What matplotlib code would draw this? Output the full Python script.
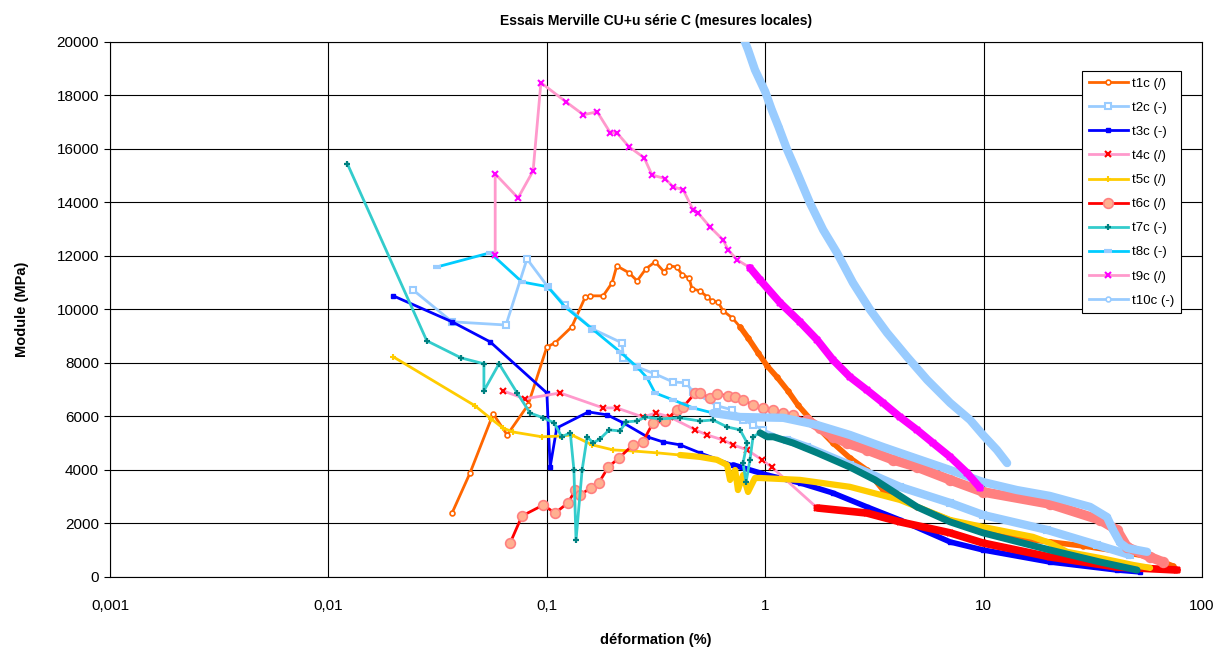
import matplotlib
matplotlib.use('Agg')
import matplotlib.pyplot as plt

plt.rcParams['font.family'] = ['Liberation Sans', 'DejaVu Sans']

# deformation (%) / module (MPa)
T1C_X = [0.0368, 0.0445, 0.0568, 0.0658, 0.0820, 0.100, 0.109, 0.130, 0.150, 0.158,
         0.181, 0.199, 0.209, 0.238, 0.259, 0.284, 0.313, 0.344, 0.363, 0.394,
         0.416, 0.448, 0.462, 0.502, 0.542, 0.570, 0.608, 0.641, 0.705, 0.767,
         0.834, 0.927, 1.02, 1.13, 1.27, 1.41, 1.73, 2.04, 2.44, 2.92,
         3.46, 4.95, 7.02, 9.93, 14.2, 20.1, 28.5, 40.8, 57.8, 73.6]
T1C_Y = [2390, 3890, 6100, 5310, 6430, 8600, 8750, 9350, 10470, 10510,
         10510, 11000, 11630, 11370, 11070, 11520, 11780, 11410, 11630, 11590,
         11300, 11180, 10770, 10700, 10470, 10320, 10280, 9950, 9690, 9350,
         8940, 8380, 7890, 7480, 6960, 6430, 5610, 5010, 4450, 4000,
         3250, 2620, 2130, 1680, 1460, 1310, 1160, 970, 750, 410]

T2C_X = [0.0244, 0.0368, 0.0650, 0.0811, 0.101, 0.121, 0.161, 0.221, 0.224, 0.259,
         0.313, 0.378, 0.434, 0.467, 0.601, 0.705, 0.791, 0.879, 0.977, 1.26,
         1.55, 2.44, 4.14, 7.02, 9.93, 19.5, 33.0, 46.8]
T2C_Y = [10730, 9540, 9420, 11890, 10850, 10170, 9280, 8750, 8190, 7850,
         7590, 7290, 7260, 6920, 6400, 6250, 5870, 5690, 5500, 5120,
         4860, 4190, 3370, 2770, 2320, 1760, 1200, 820]

T3C_X = [0.0198, 0.0368, 0.0550, 0.100, 0.1035, 0.111, 0.155, 0.189, 0.224, 0.288,
         0.340, 0.407, 0.502, 0.713, 1.02, 1.44, 2.04, 2.92, 4.14, 7.02,
         9.93, 20.1, 40.8, 52.0]
T3C_Y = [10510, 9540, 8790, 6880, 4110, 5570, 6170, 6060, 5760, 5240,
         5050, 4940, 4640, 4190, 3810, 3520, 3140, 2620, 2130, 1310,
         1010, 560, 260, 190]

T4C_X = [0.0629, 0.0794, 0.115, 0.181, 0.209, 0.275, 0.316, 0.366, 0.478, 0.542,
         0.641, 0.713, 0.826, 0.966, 1.07, 1.73, 2.92, 4.14, 7.02, 9.93,
         20.1, 40.8, 76.9]
T4C_Y = [6960, 6660, 6880, 6320, 6320, 5980, 6130, 5980, 5500, 5310,
         5120, 4940, 4750, 4380, 4110, 2580, 2390, 2060, 1650, 1270,
         750, 370, 260]

T5C_X = [0.0198, 0.0469, 0.0556, 0.0629, 0.0700, 0.0951, 0.115, 0.130, 0.161, 0.201,
         0.248, 0.320, 0.407, 0.502, 0.601, 0.668, 0.690, 0.728, 0.750, 0.791,
         0.834, 0.897, 0.946, 1.44, 2.44, 4.14, 7.02, 9.93, 16.8, 20.1,
         24.1, 34.1, 48.3, 57.8]
T5C_Y = [8230, 6400, 5910, 5570, 5420, 5240, 5270, 5310, 4940, 4750,
         4710, 4640, 4560, 4490, 4380, 4190, 3630, 4000, 3250, 3810,
         3180, 3700, 3700, 3630, 3370, 2880, 2130, 1870, 1500, 1270,
         940, 710, 450, 340]

T6C_X = [0.0679, 0.0769, 0.0962, 0.109, 0.125, 0.135, 0.142, 0.159, 0.173, 0.191,
         0.214, 0.248, 0.275, 0.306, 0.348, 0.394, 0.421, 0.478, 0.502, 0.558,
         0.601, 0.676, 0.728, 0.791, 0.879, 0.977, 1.09, 1.21, 1.34, 1.55,
         1.78, 2.04, 2.37, 2.92, 3.85, 4.95, 7.02, 9.93, 20.1, 34.1,
         40.8, 45.4, 57.8, 66.2]
T6C_Y = [1270, 2280, 2690, 2390, 2770, 3250, 3070, 3330, 3520, 4110,
         4450, 4940, 5050, 5760, 5830, 6250, 6360, 6880, 6880, 6700,
         6840, 6770, 6730, 6620, 6430, 6320, 6250, 6130, 6060, 5870,
         5570, 5240, 5010, 4750, 4380, 4110, 3630, 3180, 2730, 2130,
         1760, 1120, 750, 560]

T7C_X = [0.0122, 0.0282, 0.0405, 0.0515, 0.0515, 0.0604, 0.0731, 0.0838, 0.0962, 0.108,
         0.117, 0.128, 0.133, 0.136, 0.145, 0.153, 0.163, 0.175, 0.193, 0.216,
         0.231, 0.259, 0.282, 0.330, 0.407, 0.502, 0.577, 0.668, 0.767, 0.826,
         0.791, 0.817, 0.851, 0.879, 0.946, 1.02, 1.09, 1.34, 1.73, 2.44,
         3.18, 4.95, 7.02, 9.93, 20.1, 34.1, 50.4]
T7C_Y = [15450, 8830, 8190, 7970, 6960, 7970, 6880, 6130, 5950, 5760,
         5240, 5390, 4000, 1380, 4000, 5240, 5010, 5160, 5500, 5460,
         5800, 5830, 5980, 5910, 5950, 5830, 5870, 5610, 5500, 5010,
         4260, 3550, 4380, 5240, 5390, 5240, 5240, 5010, 4640, 4110,
         3630, 2620, 2060, 1650, 1010, 560, 260]

T8C_X = [0.0314, 0.0550, 0.0769, 0.101, 0.121, 0.161, 0.216, 0.259, 0.288, 0.313,
         0.378, 0.467, 0.577, 0.767, 1.21, 1.73, 2.44, 3.46, 4.14, 7.02,
         9.93, 14.2, 20.1, 30.7, 36.7, 39.1, 42.2, 45.4, 56.0]
T8C_Y = [11590, 12120, 11030, 10850, 10100, 9280, 8420, 7850, 7440, 6880,
         6620, 6320, 6130, 5980, 5950, 5680, 5310, 4860, 4640, 4000,
         3550, 3250, 3030, 2620, 2240, 1760, 1270, 1080, 940]

T9C_X = [0.0580, 0.0580, 0.0738, 0.0865, 0.0939, 0.122, 0.147, 0.170, 0.195, 0.209,
         0.238, 0.279, 0.303, 0.348, 0.378, 0.421, 0.467, 0.492, 0.558, 0.641,
         0.676, 0.743, 0.851, 0.946, 1.17, 1.44, 1.73, 2.04, 2.44, 2.92,
         3.46, 4.14, 4.95, 5.86, 7.02, 8.40, 9.63]
T9C_Y = [12040, 15070, 14170, 15180, 18480, 17770, 17280, 17390, 16610, 16610,
         16080, 15670, 15030, 14890, 14590, 14470, 13730, 13610, 13090, 12600,
         12230, 11860, 11560, 11110, 10250, 9540, 8860, 8120, 7480, 6990,
         6510, 5980, 5500, 5010, 4490, 3890, 3330]

T10C_X = [0.774, 0.834, 0.897, 1.00, 1.07, 1.15, 1.26, 1.40, 1.60, 1.84,
          2.13, 2.52, 3.02, 3.61, 4.46, 5.51, 7.02, 8.67, 9.93, 11.5, 12.8]
T10C_Y = [20380, 19710, 18960, 18140, 17470, 16830, 15970, 15110, 13990, 12980,
          12120, 11000, 9990, 9130, 8230, 7370, 6510, 5870, 5310, 4750, 4260]

LABELS = ['t1c (/)', 't2c (-)', 't3c (-)', 't4c (/)', 't5c (/)',
          't6c (/)', 't7c (-)', 't8c (-)', 't9c (/)', 't10c (-)']
DATA_X = [T1C_X, T2C_X, T3C_X, T4C_X, T5C_X, T6C_X, T7C_X, T8C_X, T9C_X, T10C_X]
DATA_Y = [T1C_Y, T2C_Y, T3C_Y, T4C_Y, T5C_Y, T6C_Y, T7C_Y, T8C_Y, T9C_Y, T10C_Y]

X_TICKS = [0.001, 0.01, 0.1, 1, 10, 100]
X_TICK_LABELS = ['0,001', '0,01', '0,1', '1', '10', '100']
Y_TICKS = list(range(0, 20001, 2000))

# line colour, marker, size, face, edge, edge width,
# colour / first index / width of the band where the markers are packed tight
STYLES = [
    dict(c='#FF6600', m='o', ms=3.5, mfc='white', mec='#FF6600', mew=1.2, band='#FF6600', start=29, bw=4),
    dict(c='#99CCFF', m='s', ms=5, mfc='white', mec='#99CCFF', mew=1.5, band='#99CCFF', start=19, bw=6),
    dict(c='#0000FF', m='s', ms=2.5, mfc='#0000FF', mec='#0000FF', mew=1, band='#0000FF', start=13, bw=4),
    dict(c='#FF99CC', m='x', ms=5, mfc='#FF0000', mec='#FF0000', mew=1.5, band='#FF0000', start=15, bw=5.5),
    dict(c='#FFCC00', m='+', ms=5, mfc='#FFCC00', mec='#FFCC00', mew=1.5, band='#FFCC00', start=12, bw=4.5),
    dict(c='#FF0000', m='o', ms=7, mfc='#FFB090', mec='#FF8080', mew=1.2, band='#FF8080', start=29, bw=7),
    dict(c='#33CCCC', m='+', ms=5, mfc='#008080', mec='#008080', mew=1.6, band='#008080', start=34, bw=5),
    dict(c='#00CCFF', m='_', ms=6, mfc='#99CCFF', mec='#99CCFF', mew=3, band='#99CCFF', start=12, bw=6),
    dict(c='#FF99CC', m='x', ms=5, mfc='#FF00FF', mec='#FF00FF', mew=1.5, band='#FF00FF', start=22, bw=5.5),
    dict(c='#99CCFF', m='o', ms=3.5, mfc='white', mec='#99CCFF', mew=1.2, band='#99CCFF', start=0, bw=6),
]

fig = plt.figure(figsize=(12.31, 6.51), dpi=100)
ax = fig.add_axes([0.0894, 0.1137, 0.8871, 0.8218])

handles = []
for k, (lab, xs, ys, st) in enumerate(zip(LABELS, DATA_X, DATA_Y, STYLES)):
    z = 2 + k * 0.1
    s = st['start']
    h, = ax.plot(xs, ys, color=st['c'], lw=2.0, marker=st['m'], ms=st['ms'],
                 mfc=st['mfc'], mec=st['mec'], mew=st['mew'], label=lab, zorder=z)
    ax.plot(xs[s:], ys[s:], color=st['band'], lw=st['bw'], solid_capstyle='round',
            solid_joinstyle='round', zorder=z + 0.05)
    handles.append(h)

ax.set_xscale('log')
ax.set_xlim(0.001, 100)
ax.set_ylim(0, 20000)
ax.set_xticks(X_TICKS)
ax.set_xticklabels(X_TICK_LABELS, fontsize=11)
ax.xaxis.set_minor_locator(matplotlib.ticker.NullLocator())
ax.set_yticks(Y_TICKS)
ax.set_yticklabels([str(v) for v in Y_TICKS], fontsize=11)
ax.tick_params(axis='x', length=0, pad=16)
ax.tick_params(axis='y', length=4, direction='out', pad=4)
ax.grid(True, which='major', color='black', lw=0.8)
ax.set_axisbelow(True)
for sp in ax.spines.values():
    sp.set_color('black')
    sp.set_linewidth(0.8)

ax.set_xlabel('déformation (%)', fontsize=10.5, fontweight='bold', labelpad=14)
ax.set_ylabel('Module (MPa)', fontsize=10.5, fontweight='bold', labelpad=20)
ax.set_title('Essais Merville CU+u série C (mesures locales)', fontsize=10,
             fontweight='bold', pad=12)

leg = ax.legend(handles=handles, loc='upper left', bbox_to_anchor=(0.89, 0.946),
                fontsize=9.5, frameon=True, fancybox=False, edgecolor='black',
                framealpha=1, handlelength=3.0, handletextpad=0.3,
                labelspacing=0.9, borderpad=0.5, borderaxespad=0)
leg.get_frame().set_linewidth(0.8)
leg.set_zorder(10)

fig.savefig('out.png', dpi=100, facecolor='white')
